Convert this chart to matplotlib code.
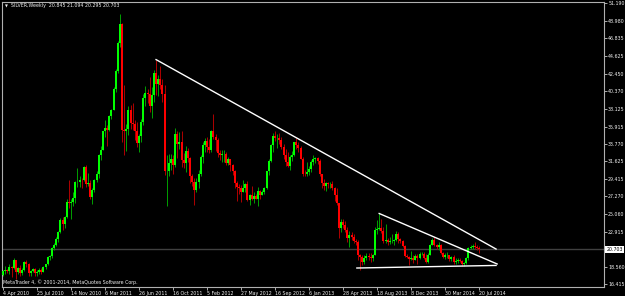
import matplotlib
matplotlib.use("Agg")
import matplotlib.pyplot as plt

# weekly SILVER candles, 4 Apr 2010 .. 20 Jul 2014
opens = [
    17.55, 18.00, 18.10, 18.05, 18.50, 18.45, 19.40, 17.95, 18.40, 17.80,
    18.20, 19.10, 18.90, 17.80, 18.00, 18.25, 17.75, 17.90, 18.15, 17.95,
    18.50, 18.90, 19.75, 19.85, 20.85, 21.30, 22.00, 22.80, 24.35, 23.80,
    24.75, 26.60, 26.40, 26.60, 27.05, 29.00, 29.00, 29.30, 29.25, 30.90,
    28.80, 28.90, 27.25, 28.00, 29.35, 30.00, 32.45, 33.00, 35.30, 35.70,
    35.50, 37.25, 37.95, 40.60, 42.80, 46.20, 48.60, 35.50, 35.40, 35.60,
    37.95, 36.40, 36.20, 35.40, 33.90, 34.80, 36.50, 39.40, 40.10, 39.90,
    38.45, 39.80, 42.55, 41.20, 41.75, 41.05, 39.95, 30.40, 30.45, 31.40,
    31.95, 31.20, 35.05, 33.70, 34.00, 31.80, 31.40, 32.85, 32.00, 29.80,
    29.00, 28.05, 29.00, 30.10, 32.20, 33.60, 34.10, 33.35, 33.00, 35.35,
    34.65, 34.25, 32.65, 32.40, 32.50, 32.55, 31.35, 31.90, 31.15, 30.45,
    28.95, 28.40, 28.35, 27.80, 28.35, 28.85, 26.85, 27.40, 26.90, 27.30,
    27.00, 27.90, 27.50, 27.85, 28.25, 30.40, 31.60, 33.60, 34.75, 34.45,
    34.50, 34.30, 33.35, 32.45, 31.50, 31.00, 32.20, 32.45, 33.95, 33.65,
    33.25, 31.95, 30.05, 30.00, 30.30, 30.65, 31.55, 31.85, 32.00, 31.70,
    30.00, 28.90, 28.50, 28.95, 28.75, 28.85, 28.30, 27.45, 26.40, 23.30,
    24.15, 23.75, 23.05, 22.15, 22.45, 22.25, 21.70, 21.60, 19.95, 19.75,
    19.10, 19.65, 19.85, 19.80, 19.70, 20.00, 23.05, 23.25, 23.35, 22.95,
    21.75, 21.85, 21.65, 21.70, 21.75, 21.90, 22.65, 21.95, 21.70, 21.10,
    19.90, 19.80, 19.55, 19.65, 19.40, 19.85, 19.65, 20.10, 20.15, 19.70,
    19.10, 20.05, 21.30, 21.90, 21.20, 20.95, 21.30, 20.25, 19.75, 19.95,
    20.00, 19.55, 19.75, 19.10, 19.25, 19.35, 19.25, 18.90, 19.05, 19.60,
    20.85, 21.05, 21.10, 20.95, 20.845,
]
highs = [
    18.10, 18.60, 18.30, 18.85, 18.70, 19.60, 19.45, 18.50, 18.75, 18.35,
    19.25, 19.35, 19.00, 18.20, 18.45, 18.40, 18.20, 18.45, 18.40, 18.65,
    18.95, 19.85, 19.95, 20.95, 21.45, 22.20, 22.95, 24.55, 24.70, 24.80,
    26.90, 29.30, 26.95, 27.75, 29.20, 30.75, 29.75, 29.55, 31.05, 31.15,
    30.15, 29.25, 28.30, 29.45, 30.45, 32.50, 33.55, 35.35, 36.75, 36.10,
    37.35, 38.10, 40.85, 43.00, 46.55, 49.82, 48.70, 41.00, 36.25, 38.40,
    38.60, 38.80, 36.70, 36.45, 35.00, 36.90, 39.90, 40.90, 40.60, 42.00,
    40.80, 42.95, 44.20, 42.30, 43.40, 41.80, 41.00, 32.40, 32.50, 32.55,
    32.40, 35.70, 35.30, 35.20, 35.40, 32.65, 33.50, 33.30, 32.20, 30.05,
    29.50, 29.60, 30.50, 32.35, 34.05, 34.45, 34.65, 34.40, 35.50, 37.50,
    35.00, 34.45, 32.95, 33.00, 33.00, 32.80, 32.20, 31.95, 31.30, 30.55,
    29.20, 28.80, 28.70, 29.35, 28.95, 29.20, 27.60, 28.60, 27.75, 27.60,
    28.40, 28.00, 28.05, 28.40, 30.45, 31.90, 33.75, 35.10, 35.40, 35.00,
    35.15, 34.65, 33.70, 33.10, 32.70, 32.40, 32.85, 34.05, 34.55, 34.00,
    33.50, 32.15, 30.50, 31.50, 31.00, 31.80, 32.45, 32.10, 32.10, 31.90,
    30.05, 29.40, 29.00, 29.10, 29.05, 29.15, 28.40, 28.30, 26.45, 24.50,
    24.45, 24.20, 23.50, 23.00, 22.90, 22.60, 22.00, 21.90, 20.15, 20.05,
    20.00, 20.25, 20.30, 20.20, 20.15, 23.45, 24.35, 25.15, 24.45, 23.50,
    23.80, 22.15, 22.25, 22.60, 22.05, 22.95, 22.85, 22.10, 21.90, 21.20,
    20.15, 19.90, 20.45, 20.05, 20.10, 20.15, 20.35, 20.40, 20.35, 20.15,
    20.30, 21.40, 22.15, 22.20, 21.40, 21.60, 21.40, 20.40, 20.20, 20.35,
    20.05, 19.85, 19.95, 19.60, 19.60, 19.60, 19.40, 19.20, 19.80, 21.05,
    21.20, 21.35, 21.60, 21.20, 21.094,
]
lows = [
    17.45, 17.70, 17.75, 17.65, 17.25, 18.30, 17.00, 17.60, 17.45, 17.50,
    18.05, 18.50, 17.45, 17.40, 17.85, 17.35, 17.40, 17.70, 17.60, 17.85,
    18.25, 18.80, 19.35, 19.70, 20.60, 21.10, 21.65, 22.70, 23.05, 23.40,
    24.60, 25.85, 24.50, 26.05, 26.50, 28.40, 28.45, 28.35, 29.20, 28.45,
    28.50, 26.90, 26.35, 27.80, 29.05, 29.55, 31.80, 32.95, 34.60, 33.55,
    35.30, 36.90, 37.90, 40.15, 42.60, 45.80, 34.00, 32.35, 32.90, 34.90,
    35.60, 35.50, 34.20, 33.35, 32.80, 34.00, 36.10, 38.50, 38.80, 37.70,
    37.00, 38.90, 39.80, 39.70, 40.50, 38.90, 29.90, 26.10, 29.80, 30.50,
    30.00, 30.95, 32.00, 33.15, 30.90, 30.80, 30.30, 31.55, 28.90, 28.50,
    26.20, 27.75, 28.35, 29.80, 31.45, 32.80, 32.75, 32.60, 32.80, 34.40,
    32.90, 32.20, 31.80, 31.55, 31.50, 31.10, 31.20, 30.40, 29.95, 28.35,
    26.70, 27.60, 26.60, 27.75, 27.80, 26.70, 26.20, 26.80, 26.50, 26.95,
    26.10, 26.90, 27.40, 27.60, 28.15, 29.90, 31.50, 32.75, 34.10, 33.30,
    33.80, 33.10, 31.90, 31.05, 30.85, 30.50, 31.70, 32.30, 33.10, 32.70,
    31.90, 29.75, 29.80, 29.75, 29.95, 30.30, 31.10, 31.45, 31.30, 29.80,
    28.35, 28.10, 27.90, 28.35, 28.30, 28.10, 26.65, 26.20, 22.10, 22.90,
    23.30, 22.85, 21.60, 20.95, 21.85, 21.55, 21.20, 19.40, 18.20, 18.80,
    18.85, 19.40, 19.40, 19.15, 19.25, 19.95, 22.65, 23.05, 22.75, 21.55,
    21.55, 21.30, 21.35, 21.45, 21.25, 21.80, 21.55, 21.50, 21.05, 19.80,
    19.70, 18.80, 19.40, 19.05, 19.35, 18.90, 19.50, 19.95, 19.55, 19.05,
    19.05, 19.95, 21.25, 21.10, 20.75, 20.60, 20.10, 19.60, 19.50, 19.70,
    19.30, 19.30, 18.95, 18.95, 19.05, 19.10, 18.70, 18.65, 18.95, 19.45,
    20.70, 20.75, 20.80, 20.60, 20.295,
]
closes = [
    18.00, 18.10, 18.05, 18.50, 18.45, 19.40, 17.95, 18.40, 17.80, 18.20,
    19.10, 18.90, 17.80, 18.00, 18.25, 17.75, 17.90, 18.15, 17.95, 18.50,
    18.90, 19.75, 19.85, 20.85, 21.30, 22.00, 22.80, 24.35, 23.80, 24.75,
    26.60, 26.40, 26.60, 27.05, 29.00, 29.00, 29.30, 29.25, 30.90, 28.80,
    28.90, 27.25, 28.00, 29.35, 30.00, 32.45, 33.00, 35.30, 35.70, 35.50,
    37.25, 37.95, 40.60, 42.80, 46.20, 48.60, 35.50, 35.40, 35.60, 37.95,
    36.40, 36.20, 35.40, 33.90, 34.80, 36.50, 39.40, 40.10, 39.90, 38.45,
    39.80, 42.55, 41.20, 41.75, 41.05, 39.95, 30.40, 30.45, 31.40, 31.95,
    31.20, 35.05, 33.70, 34.00, 31.80, 31.40, 32.85, 32.00, 29.80, 29.00,
    28.05, 29.00, 30.10, 32.20, 33.60, 34.10, 33.35, 33.00, 35.35, 34.65,
    34.25, 32.65, 32.40, 32.50, 32.55, 31.35, 31.90, 31.15, 30.45, 28.95,
    28.40, 28.35, 27.80, 28.35, 28.85, 26.85, 27.40, 26.90, 27.30, 27.00,
    27.90, 27.50, 27.85, 28.25, 30.40, 31.60, 33.60, 34.75, 34.45, 34.50,
    34.30, 33.35, 32.45, 31.50, 31.00, 32.20, 32.45, 33.95, 33.65, 33.25,
    31.95, 30.05, 30.00, 30.30, 30.65, 31.55, 31.85, 32.00, 31.70, 30.00,
    28.90, 28.50, 28.95, 28.75, 28.85, 28.30, 27.45, 26.40, 23.30, 24.15,
    23.75, 23.05, 22.15, 22.45, 22.25, 21.70, 21.60, 19.95, 19.75, 19.10,
    19.65, 19.85, 19.80, 19.70, 20.00, 23.05, 23.25, 23.35, 22.95, 21.75,
    21.85, 21.65, 21.70, 21.75, 21.90, 22.65, 21.95, 21.70, 21.10, 19.90,
    19.80, 19.55, 19.65, 19.40, 19.85, 19.65, 20.10, 20.15, 19.70, 19.10,
    20.05, 21.30, 21.90, 21.20, 20.95, 21.30, 20.25, 19.75, 19.95, 20.00,
    19.55, 19.75, 19.10, 19.25, 19.35, 19.25, 18.90, 19.05, 19.60, 20.85,
    21.05, 21.10, 20.95, 20.85, 20.703,
]

date_labels = ["4 Apr 2010", "25 Jul 2010", "14 Nov 2010", "6 Mar 2011",
               "26 Jun 2011", "16 Oct 2011", "5 Feb 2012", "27 May 2012",
               "16 Sep 2012", "6 Jan 2013", "28 Apr 2013", "18 Aug 2013",
               "8 Dec 2013", "30 Mar 2014", "20 Jul 2014"]
date_bars = [0, 16, 32, 48, 64, 80, 96, 112, 128, 144, 160, 176, 192, 208, 224]
price_ticks = [51.190, 48.980, 46.835, 44.625, 42.450, 40.370, 38.125, 35.915,
               33.770, 31.625, 29.415, 27.270, 25.060, 22.915, 18.560, 16.415]
last_price = 20.703

# trendlines drawn on the chart: (bar, price) anchors
trend_big = [(72, 44.20), (232, 20.75)]
trend_small = [(177, 25.15), (232.5, 18.90)]
trend_bottom = [(166.5, 18.40), (232, 18.72)]

fg = "#f0f0f0"
fs = 3.4
fig = plt.figure(figsize=(6.25, 2.96), dpi=100, facecolor="black")
ax = fig.add_axes([2 / 625, 9 / 296, 602 / 625, 285 / 296], facecolor="black")

ax.axhline(last_price, color="#404040", lw=1.0, zorder=1)

for i in range(len(closes)):
    o, h, l, c = opens[i], highs[i], lows[i], closes[i]
    up = c >= o
    body_col = "#00ff00" if up else "#ff0000"
    wick_col = "#00a000" if up else "#b00000"
    ax.vlines(i, l, h, color=wick_col, lw=0.7, zorder=2)
    ax.bar(i, max(abs(c - o), 0.06), bottom=min(o, c), width=0.9,
           color=body_col, linewidth=0, zorder=3)

for line in (trend_big, trend_small, trend_bottom):
    xs = [p[0] for p in line]
    ys = [p[1] for p in line]
    ax.plot(xs, ys, color="white", lw=1.0, zorder=4)

ax.set_xlim(-0.5, 282.8)
ax.set_ylim(16.05, 51.33)

ax.yaxis.tick_right()
ax.set_yticks(price_ticks)
ax.set_yticklabels([f"{v:.3f}" for v in price_ticks])
ax.set_xticks(date_bars)
ax.set_xticklabels(date_labels, ha="left")
ax.tick_params(axis="both", colors=fg, labelsize=fs, length=2, width=0.5, pad=1)

for s in ax.spines.values():
    s.set_color("#b0b0b0")
    s.set_linewidth(0.8)

# current price box on the right axis
ax.text(1.004, last_price, f"{last_price:.3f}", transform=ax.get_yaxis_transform(),
        fontsize=fs, color="black", va="center", ha="left",
        bbox=dict(boxstyle="square,pad=0.25", fc="white", ec="none"))

fig.text(5 / 625, 1 - 6 / 296, "\u25bc", fontsize=2.7, color=fg, va="center")
fig.text(11 / 625, 1 - 6 / 296, "SILVER,Weekly  20.845 21.094 20.295 20.703",
         fontsize=fs, color=fg, va="center")
fig.text(3 / 625, 1 - 282 / 296, "MetaTrader 4, \u00a9 2001-2014, MetaQuotes Software Corp.",
         fontsize=fs, color=fg, va="center")

fig.savefig("out.png", dpi=100, facecolor="black")
